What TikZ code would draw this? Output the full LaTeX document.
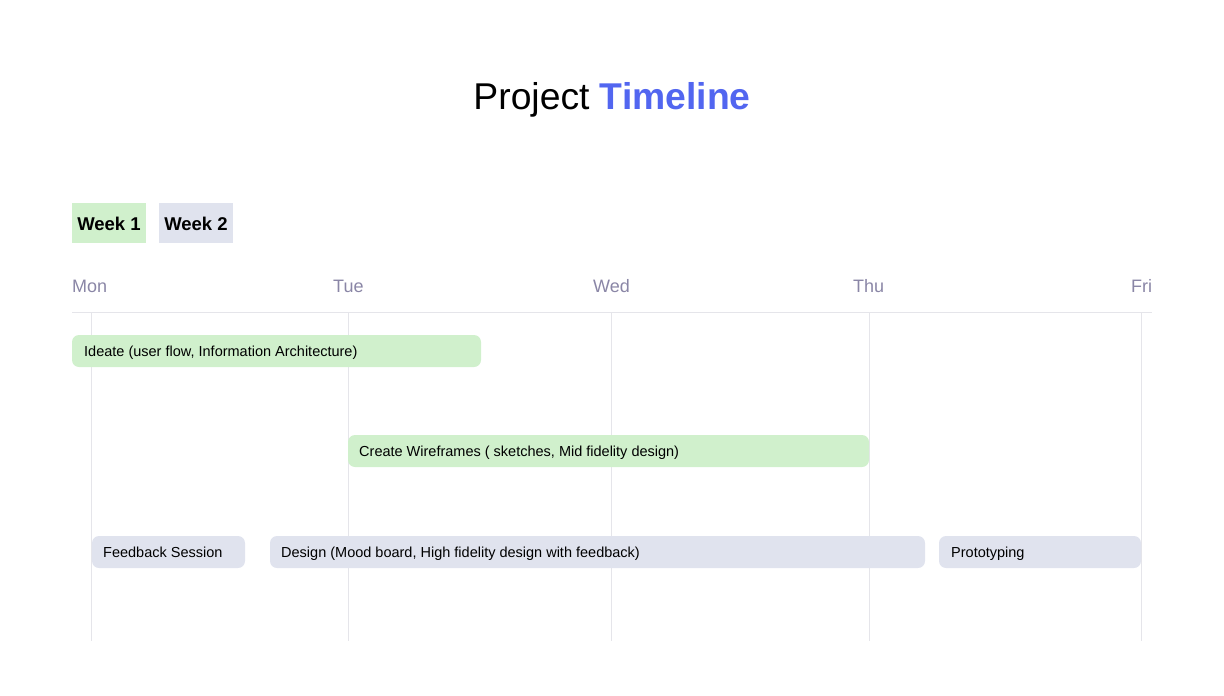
\documentclass[tikz,border=0pt]{standalone}
\usepackage{fontspec}
\setmainfont{Liberation Sans}
\definecolor{titleblue}{RGB}{82,102,240}
\definecolor{barGreen}{RGB}{208,240,204}
\definecolor{barGray}{RGB}{224,227,238}
\definecolor{dayGray}{RGB}{138,134,166}
\definecolor{gridGray}{RGB}{229,229,234}
\begin{document}
\begin{tikzpicture}[x=1pt,y=-1pt,
  weekbox/.style={inner sep=0pt, anchor=base, font=\fontsize{18.5}{22}\selectfont\bfseries},
  daylabel/.style={anchor=base west, inner sep=0pt, text=dayGray, font=\fontsize{18}{22}\selectfont},
  bartext/.style={anchor=base west, inner sep=0pt, font=\fontsize{14.5}{17}\selectfont},
  gridline/.style={draw=gridGray, line width=1pt}]
\useasboundingbox (0,0) rectangle (1224,696);
\node[anchor=base, inner sep=0pt, font=\fontsize{37.3}{44}\selectfont] (title) at (612,109) {Project \textcolor{titleblue}{\bfseries Timeline}};
% week tabs
\fill[barGreen] (72,203) rectangle (146,243);
\node[weekbox] (w1) at (109,230) {Week 1};
\fill[barGray] (159,203) rectangle (233,243);
\node[weekbox] (w2) at (196,230) {Week 2};
% days
\node[daylabel] (mon) at (72,292) {Mon};
\node[daylabel] (tue) at (333,292) {Tue};
\node[daylabel] (wed) at (593,292) {Wed};
\node[daylabel] (thu) at (853,292) {Thu};
\node[daylabel] (fri) at (1131,292) {Fri};
% grid
\draw[gridline] (72,312.5) -- (1152,312.5);
\foreach \x in {91.5,348,611.5,869.5,1141.5}{\draw[gridline] (\x,313) -- (\x,641);}
% bars
\fill[barGreen, rounded corners=7pt] (72,335) rectangle (481,367);
\node[bartext] (ideate) at (84,356) {Ideate (user flow, Information Architecture)};
\fill[barGreen, rounded corners=7pt] (348,435) rectangle (869,467);
\node[bartext] (wire) at (359,456) {Create Wireframes ( sketches, Mid fidelity design)};
\fill[barGray, rounded corners=7pt] (92,536) rectangle (245,568);
\node[bartext] (feed) at (103,557) {Feedback Session};
\fill[barGray, rounded corners=7pt] (270,536) rectangle (925,568);
\node[bartext] (design) at (281,557) {Design (Mood board, High fidelity design with feedback)};
\fill[barGray, rounded corners=7pt] (939,536) rectangle (1141,568);
\node[bartext] (proto) at (951,557) {Prototyping};
\end{tikzpicture}
\end{document}
